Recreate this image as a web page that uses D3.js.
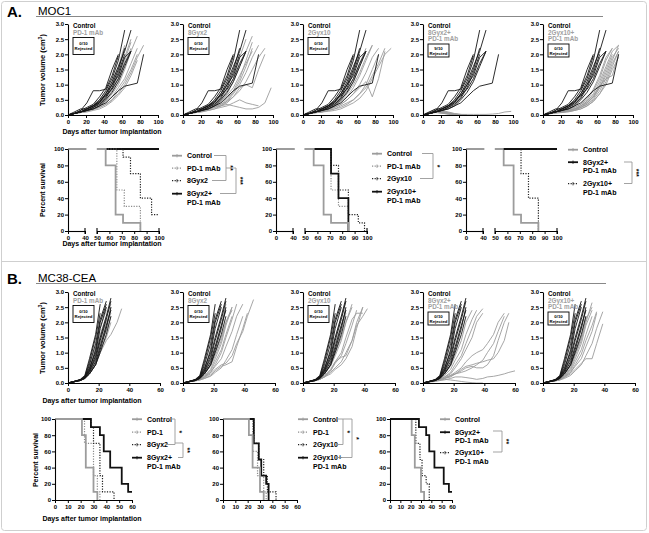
<!DOCTYPE html>
<html><head><meta charset="utf-8">
<script src="https://cdn.jsdelivr.net/npm/d3@7"></script>
<style>
body{margin:0;background:#fff}
svg{display:block;font-family:"Liberation Sans",Arial,Helvetica,sans-serif}
</style></head><body>
<svg id="c" width="649" height="533"></svg>
<script>
// ---------------- DATA ----------------
const VOL_TICKS = [0,0.5,1,1.5,2,2.5,3];
const PCT_TICKS = [0,20,40,60,80,100];
const A_XTICKS = [0,20,40,60,80,100];
const B_XTICKS = [0,20,40,60];
const A_SURV_TICKS_LO = [0,40];
const A_SURV_TICKS_HI = [50,60,70,80,90,100];
const B_SURV_TICKS = [0,10,20,30,40,50,60];

// MOC1 measurement days (index i of every volume array)
const A_DAYS = [0,7,14,21,28,35,42,49,56,63,70,77,84,91,98];
// MC38-CEA measurement days
const B_DAYS = [0,4,8,11,14,18,21,25,28,32,35,39,42,46,49,53,56,60];

// MOC1 tumor volumes (cm3)
const A_CONTROL = [
 [0,0.05,0.15,0.4,0.8,0.8,0.85,1.3,1.95],
 [0,0.05,0.1,0.15,0.25,0.4,0.7,1.1,1.6,2.1,2.8],
 [0,0.05,0.1,0.2,0.3,0.5,0.8,1.2,1.8,2.8],
 [0,0.1,0.2,0.2,0.3,0.4,0.6,1.0,1.5,2.2],
 [0,0.05,0.1,0.15,0.25,0.35,0.55,0.9,1.4,2.0],
 [0,0.05,0.1,0.2,0.3,0.45,0.7,1.0,1.3,1.9,2.1],
 [0,0.05,0.1,0.15,0.2,0.3,0.4,0.6,0.8,0.95,1.0,1.05,2.0],
 [0,0.05,0.15,0.25,0.35,0.6,0.9,1.5,2.0],
 [0,0.05,0.1,0.2,0.3,0.45,0.65,0.85,1.2,1.7,2.1],
 [0,0.05,0.1,0.15,0.2,0.3,0.5,0.75,1.1,1.6,2.1]
];
const A_PD1 = [
 [0,0.05,0.1,0.15,0.25,0.4,0.6,0.9,1.3,1.9,2.5],
 [0,0.05,0.1,0.2,0.3,0.45,0.7,1.0,1.5,2.2],
 [0,0.05,0.1,0.15,0.2,0.3,0.45,0.7,1.0,1.5,2.1,2.6],
 [0,0.05,0.1,0.15,0.2,0.3,0.4,0.6,0.9,1.2,1.7,2.2],
 [0,0.05,0.08,0.12,0.2,0.25,0.35,0.5,0.8,1.1,1.5,2.0],
 [0,0.05,0.1,0.2,0.35,0.5,0.75,1.1,1.6,2.3],
 [0,0.05,0.08,0.1,0.15,0.2,0.3,0.45,0.65,0.9,1.3,1.8],
 [0,0.05,0.1,0.15,0.25,0.35,0.5,0.8,1.2,1.8,2.4],
 [0,0.04,0.08,0.12,0.18,0.25,0.35,0.5,0.7,1.0,1.4,1.9,2.3],
 [0,0.05,0.1,0.2,0.3,0.4,0.6,0.85,1.2,1.7,2.2]
];
const A_8GY = [
 [0,0.05,0.1,0.15,0.2,0.3,0.45,0.7,1.1,1.6,2.1,2.6],
 [0,0.05,0.08,0.12,0.18,0.25,0.35,0.5,0.75,1.1,1.6,2.2],
 [0,0.05,0.1,0.2,0.35,0.3,0.3,0.4,0.6,0.9,1.0,0.9,1.5,2.0],
 [0,0.05,0.1,0.15,0.2,0.25,0.3,0.35,0.3,0.25,0.2,0.2,0.25,0.4,0.9],
 [0,0.05,0.1,0.15,0.2,0.3,0.4,0.55,0.8,1.2,1.8,2.4],
 [0,0.05,0.08,0.1,0.15,0.2,0.25,0.3,0.4,0.5,0.4,0.35,0.3],
 [0,0.05,0.1,0.15,0.25,0.35,0.5,0.8,1.2,1.9,2.5],
 [0,0.05,0.1,0.12,0.15,0.2,0.3,0.45,0.7,1.0,1.4,1.9,2.3],
 [0,0.05,0.08,0.12,0.2,0.3,0.45,0.65,0.9,1.3,1.7,2.1],
 [0,0.05,0.1,0.15,0.2,0.3,0.35,0.45,0.6,0.8,1.1,1.5,1.9,2.2]
];
const A_2GY = [
 [0,0.05,0.1,0.15,0.2,0.3,0.45,0.7,1.0,1.4,1.9,2.3],
 [0,0.05,0.08,0.12,0.18,0.25,0.35,0.5,0.7,1.0,1.4,1.9,2.2],
 [0,0.05,0.1,0.15,0.2,0.25,0.35,0.5,0.7,0.9,1.1,0.6,1.2,2.1],
 [0,0.04,0.08,0.1,0.15,0.2,0.3,0.4,0.5,0.7,0.9,1.3,1.7,2.2],
 [0,0.05,0.1,0.2,0.3,0.45,0.7,1.0,1.5,2.1],
 [0,0.05,0.1,0.15,0.25,0.35,0.5,0.75,1.1,1.6,2.1],
 [0,0.05,0.08,0.1,0.15,0.2,0.25,0.35,0.5,0.7,1.0,1.5,2.0],
 [0,0.05,0.1,0.15,0.2,0.3,0.4,0.6,0.9,1.3,1.8,2.3],
 [0,0.04,0.07,0.1,0.12,0.15,0.2,0.3,0.4,0.55,0.8,1.2,1.6,2.0,2.2],
 [0,0.05,0.1,0.15,0.2,0.35,0.55,0.8,1.2,1.7,2.2]
];
const A_8GY_PD1 = [
 [0,0.1,0.15,0.1,0.05,0,0,0],
 [0,0.08,0.12,0.1,0.05,0.02,0],
 [0,0.1,0.18,0.12,0.06,0.02,0],
 [0,0.05,0.1,0.08,0.04,0.01,0],
 [0,0.06,0.12,0.15,0.1,0.05,0.02,0],
 [0,0.07,0.1,0.06,0.03,0],
 [0,0.08,0.14,0.1,0.07,0.03,0.01,0],
 [0,0.05,0.09,0.07,0.05,0.03,0.02,0.02,0.02,0.02,0.02,0.03,0.05,0.1,0.12],
 [0,0.06,0.1,0.12,0.08,0.04,0],
 [0,0.04,0.08,0.06,0.03,0.01,0]
];
const A_2GY_PD1 = [
 [0,0.05,0.1,0.12,0.15,0.2,0.3,0.45,0.7,1.1,1.6,2.1,2.3],
 [0,0.05,0.08,0.1,0.15,0.2,0.25,0.35,0.55,0.9,1.4,1.9,2.2],
 [0,0.04,0.08,0.1,0.12,0.18,0.25,0.4,0.6,1.0,1.5,2.0],
 [0,0.05,0.1,0.15,0.2,0.25,0.35,0.5,0.8,1.2,1.8,2.2],
 [0,0.05,0.08,0.1,0.12,0.15,0.2,0.3,0.45,0.7,1.1,1.6,2.1],
 [0,0.04,0.07,0.1,0.15,0.2,0.3,0.4,0.6,0.9,1.3,1.8,2.3],
 [0,0.05,0.1,0.12,0.15,0.2,0.3,0.45,0.65,0.95,1.2,1.3,2.0],
 [0,0.05,0.08,0.1,0.12,0.15,0.25,0.35,0.5,0.8,1.2,1.7,2.1],
 [0,0.04,0.06,0.08,0.1,0.15,0.2,0.3,0.45,0.7,1.0,1.5,1.9],
 [0,0.05,0.1,0.12,0.18,0.25,0.35,0.55,0.85,1.3,1.9,2.2]
];

// MC38-CEA tumor volumes (cm3)
const B_CONTROL = [
 [0,0.05,0.12,0.25,0.8,1.6,2.6],
 [0,0.05,0.1,0.2,0.6,1.3,2.1,2.7],
 [0,0.04,0.1,0.18,0.4,0.9,1.5,2.2,2.8],
 [0,0.05,0.1,0.2,0.5,1.0,1.8,2.5],
 [0,0.04,0.08,0.15,0.35,0.7,1.2,1.9,2.4],
 [0,0.05,0.1,0.22,0.7,1.5,2.3],
 [0,0.04,0.09,0.15,0.3,0.6,1.0,1.6,2.2],
 [0,0.05,0.1,0.2,0.45,1.1,2.0,2.6],
 [0,0.04,0.08,0.16,0.3,0.6,1.1,1.8,2.5],
 [0,0.05,0.1,0.18,0.4,0.8,1.4,2.1,2.7]
];
const B_PD1 = [
 [0,0.05,0.1,0.2,0.5,1.0,1.6,2.2,2.6],
 [0,0.04,0.08,0.15,0.3,0.6,1.0,1.4,1.6,2.0,2.45],
 [0,0.05,0.1,0.2,0.6,1.2,2.0,2.5],
 [0,0.04,0.09,0.18,0.4,0.8,1.3,1.9,2.3],
 [0,0.05,0.1,0.2,0.45,0.9,1.5,2.1],
 [0,0.04,0.08,0.15,0.35,0.7,1.1,1.5,2.0],
 [0,0.05,0.1,0.2,0.5,1.1,1.8,2.4],
 [0,0.04,0.08,0.16,0.3,0.65,1.2,1.8,2.5],
 [0,0.05,0.1,0.18,0.4,0.85,1.4,2.0,2.4],
 [0,0.04,0.09,0.17,0.35,0.75,1.3,1.7,2.2]
];
const B_8GY = [
 [0,0.04,0.08,0.12,0.2,0.35,0.6,1.0,1.5,2.1,2.6],
 [0,0.04,0.07,0.1,0.15,0.25,0.4,0.55,0.6,0.7,1.2,1.8,2.3],
 [0,0.05,0.1,0.15,0.3,0.6,1.0,1.5,2.0,2.4],
 [0,0.04,0.08,0.12,0.18,0.3,0.45,0.6,0.65,0.9,1.3,1.7,2.2,2.75],
 [0,0.05,0.09,0.14,0.25,0.45,0.8,1.3,1.9,2.5],
 [0,0.04,0.08,0.11,0.2,0.35,0.55,0.8,1.2,1.7,2.2,2.6],
 [0,0.05,0.1,0.15,0.3,0.55,0.9,1.4,2.0,2.5],
 [0,0.04,0.07,0.1,0.15,0.22,0.35,0.5,0.75,1.1,1.6,2.2],
 [0,0.05,0.1,0.16,0.35,0.7,1.2,1.9,2.6],
 [0,0.04,0.08,0.12,0.22,0.4,0.7,1.1,1.6,2.2]
];
const B_2GY = [
 [0,0.04,0.08,0.12,0.2,0.4,0.7,0.85,0.9,1.4,2.0,2.5],
 [0,0.05,0.1,0.15,0.3,0.6,1.0,1.5,2.0,2.5],
 [0,0.04,0.08,0.12,0.2,0.35,0.5,0.7,1.0,1.4,1.9,2.2,2.45],
 [0,0.05,0.1,0.18,0.4,0.8,1.3,1.9,2.4],
 [0,0.04,0.09,0.15,0.3,0.55,0.9,1.4,2.0,2.6],
 [0,0.05,0.1,0.2,0.45,0.9,1.5,2.2,2.7],
 [0,0.04,0.08,0.14,0.25,0.45,0.7,1.0,1.5,2.1,2.3,2.3],
 [0,0.04,0.07,0.12,0.2,0.3,0.45,0.6,0.8,1.2,1.8,2.5],
 [0,0.05,0.1,0.16,0.35,0.7,1.1,1.7,2.3],
 [0,0.04,0.08,0.13,0.22,0.4,0.65,0.9,1.3,1.9,2.4]
];
const B_8GY_PD1 = [
 [0,0.04,0.08,0.12,0.2,0.35,0.6,0.9,1.3,1.8,2.2,2.45],
 [0,0.04,0.07,0.1,0.15,0.25,0.35,0.5,0.7,0.9,1.0,1.1,1.3,1.6,2.0,2.3],
 [0,0.04,0.07,0.1,0.15,0.2,0.3,0.45,0.55,0.6,0.65,0.7,0.75,0.8,1.0,1.4,2.0],
 [0,0.03,0.05,0.08,0.1,0.15,0.2,0.2,0.18,0.15,0.12,0.15,0.2,0.22,0.25,0.3,0.35,0.4],
 [0,0.04,0.08,0.1,0.12,0.1,0.08,0.05,0.03,0.01,0,0],
 [0,0.05,0.1,0.15,0.3,0.55,0.9,1.4,2.0,2.4],
 [0,0.04,0.08,0.12,0.2,0.3,0.5,0.8,1.1,1.5,2.0,2.3],
 [0,0.04,0.07,0.1,0.15,0.22,0.3,0.4,0.5,0.55,0.5,0.5,0.6,0.9,1.4,2.0,2.3],
 [0,0.04,0.08,0.12,0.18,0.25,0.3,0.35,0.4,0.5,0.6,0.75,1.0,1.3,1.7,2.2],
 [0,0.05,0.09,0.14,0.25,0.45,0.75,1.1,1.6,2.1,2.4]
];
const B_2GY_PD1 = [
 [0,0.04,0.08,0.12,0.25,0.5,0.9,1.4,2.0,2.65],
 [0,0.04,0.07,0.1,0.18,0.3,0.45,0.65,0.8,0.8,1.3,1.95],
 [0,0.05,0.09,0.14,0.3,0.6,1.0,1.5,2.1,2.5],
 [0,0.04,0.07,0.11,0.2,0.35,0.6,0.95,1.4,1.9,2.35],
 [0,0.05,0.1,0.15,0.35,0.7,1.2,1.8,2.4],
 [0,0.04,0.08,0.12,0.22,0.4,0.7,1.1,1.6,2.2],
 [0,0.04,0.07,0.1,0.15,0.25,0.4,0.6,0.9,1.3,1.8,2.35],
 [0,0.05,0.09,0.15,0.3,0.55,0.95,1.5,2.2],
 [0,0.04,0.08,0.12,0.2,0.35,0.55,0.8,1.2,1.7,2.3],
 [0,0.04,0.08,0.13,0.25,0.45,0.8,1.3,1.9,2.4]
];

// Kaplan-Meier survival: [day, percent] step points
const KM_A_CONTROL = [[0,100],[57,80],[65,20],[71,10],[85,0]];
const KM_A_PD1 = [[0,100],[66,50],[72,30],[85,0]];
const KM_A_8GY = [[0,100],[71,90],[77,70],[85,40],[94,20],[100,20]];
const KM_A_8GY_PD1 = [[57,100],[100,100]];
const KM_A2_PD1 = [[0,100],[71,50],[77,30],[85,0]];
const KM_A_2GY = [[0,100],[71,80],[77,50],[85,20],[93,10],[98,0]];
const KM_A_2GY_PD1 = [[0,100],[71,70],[77,40],[85,0]];

const KM_B_CONTROL = [[0,100],[21,80],[24,40],[30,10],[33,0]];
const KM_B_PD1 = [[0,100],[23,70],[30,30],[33,10],[35,0]];
const KM_B_8GY = [[0,100],[28,90],[30,70],[35,30],[37,10],[46,0]];
const KM_B_8GY_PD1 = [[0,100],[28,90],[35,80],[38,60],[43,40],[52,20],[57,10],[60,10]];
const KM_B2_PD1 = [[0,100],[24,60],[28,30],[33,10],[35,0]];
const KM_B_2GY = [[0,100],[25,70],[29,50],[33,30],[36,10],[43,0]];
const KM_B_2GY_PD1_B2 = [[0,100],[25,70],[29,50],[31,30],[35,20],[37,0]];
const KM_B_2GY_PD1 = [[0,100],[25,70],[29,50],[31,30],[35,20],[38,0]];

// ---------------- DRAWING ----------------
const svg = d3.select('#c');
const FONT = '"Liberation Sans",Arial,Helvetica,sans-serif';
const GRAY = '#9c9c9c', BLACK = '#151515', GRAYTXT = '#a0a0a0';

// frame and separator
svg.append('rect').attr('x',1.5).attr('y',1.5).attr('width',645).attr('height',529).attr('rx',3)
  .attr('fill','none').attr('stroke','#cfcfcf');
svg.append('line').attr('x1',1.5).attr('x2',646.5).attr('y1',261.5).attr('y2',261.5).attr('stroke','#cfcfcf');

function header(letter, title, y, x2){
  svg.append('text').attr('x',7).attr('y',y+2).attr('font-size',15).attr('font-weight','bold').text(letter);
  svg.append('text').attr('x',38).attr('y',y).attr('font-size',11.5).text(title);
  svg.append('line').attr('x1',36).attr('x2',x2).attr('y1',y+1.5).attr('y2',y+1.5).attr('stroke','#888').attr('stroke-width',1);
}
header('A.', 'MOC1', 15, 603);
header('B.', 'MC38-CEA', 282, 606);

function styleAxis(g){
  g.selectAll('.domain').attr('stroke','#000').attr('stroke-width',1.1);
  g.selectAll('.tick line').attr('stroke','#000').attr('stroke-width',1);
  g.selectAll('.tick text').attr('font-family',FONT).attr('font-weight','bold').attr('font-size',6).attr('fill','#000');
}

function spaghetti(c){
  const g = svg.append('g');
  const x = d3.scaleLinear().domain([0,c.xmax]).range([c.x0, c.x0+c.w]);
  const y = d3.scaleLinear().domain([0,3]).range([c.yb, c.yt]);
  const line = d3.line().x(d=>x(d[0])).y(d=>y(d[1]));
  const pts = v => v.map((val,i)=>[c.days[i], val]);
  g.selectAll('path.gr').data(c.gray).join('path').attr('class','gr')
    .attr('d', v=>line(pts(v))).attr('fill','none').attr('stroke',GRAY).attr('stroke-width',0.9);
  g.selectAll('path.bk').data(c.black).join('path').attr('class','bk')
    .attr('d', v=>line(pts(v))).attr('fill','none').attr('stroke',BLACK).attr('stroke-width',0.9);
  const ya = g.append('g').attr('transform',`translate(${c.x0},0)`)
    .call(d3.axisLeft(y).tickValues(VOL_TICKS).tickFormat(d3.format('.1f')).tickSize(3).tickSizeOuter(0).tickPadding(1));
  const xa = g.append('g').attr('transform',`translate(0,${c.yb})`)
    .call(d3.axisBottom(x).tickValues(c.xticks).tickSize(3).tickSizeOuter(0).tickPadding(1.5));
  styleAxis(ya); styleAxis(xa);
  // legend
  const lx = c.x0 + 5;
  let ly = c.yt + 4;
  g.append('text').attr('x',lx).attr('y',ly).attr('font-size',6.3).attr('font-weight','bold').text('Control');
  c.group.forEach(t=>{ ly += 6.5; g.append('text').attr('x',lx).attr('y',ly).attr('font-size',6.3).attr('font-weight','bold').attr('fill',GRAYTXT).text(t); });
  const bh = c.group.length>1 ? 13 : 17;
  const by = ly + 3;
  const bw = 21;
  g.append('rect').attr('x',lx).attr('y',by).attr('width',bw).attr('height',bh).attr('fill','#fff').attr('stroke','#000').attr('stroke-width',0.9);
  g.append('text').attr('x',lx+bw/2).attr('y',by+bh/2-0.8).attr('text-anchor','middle').attr('font-size',4.3).attr('font-weight','bold').text(c.rej);
  g.append('text').attr('x',lx+bw/2).attr('y',by+bh/2+4.3).attr('text-anchor','middle').attr('font-size',4.3).attr('font-weight','bold').text('Rejected');
}

const A_X0 = [68,183,303,423,543];
const A_GROUPS = [['PD-1 mAb'],['8Gyx2'],['2Gyx10'],['8Gyx2+','PD-1 mAb'],['2Gyx10+','PD-1 mAb']];
const A_REJ = ['0/10','0/10','0/10','9/10','0/10'];
const A_TREAT = [A_PD1, A_8GY, A_2GY, A_8GY_PD1, A_2GY_PD1];
A_TREAT.forEach((t,i)=>spaghetti({x0:A_X0[i], w:90, xmax:100, yt:24, yb:115, days:A_DAYS, gray:t, black:A_CONTROL, xticks:A_XTICKS, group:A_GROUPS[i], rej:A_REJ[i]}));
const B_TREAT = [B_PD1, B_8GY, B_2GY, B_8GY_PD1, B_2GY_PD1];
const B_GROUPS = [['PD-1 mAb'],['8Gyx2'],['2Gyx10'],['8Gyx2+','PD-1 mAb'],['2Gyx10+','PD-1 mAb']];
B_TREAT.forEach((t,i)=>spaghetti({x0:A_X0[i], w:92, xmax:60, yt:292, yb:383, days:B_DAYS, gray:t, black:B_CONTROL, xticks:B_XTICKS, group:B_GROUPS[i], rej:'0/10'}));

function label(txt, x, y, rot){
  const t = svg.append('text').attr('font-size',7).attr('font-weight','bold').attr('text-anchor','middle')
    .attr('transform', `translate(${x},${y})` + (rot?' rotate(-90)':''));
  return t.text(txt);
}
function tumorLabel(x,y){
  const t = svg.append('text').attr('font-size',7.5).attr('font-weight','bold').attr('text-anchor','middle')
    .attr('transform',`translate(${x},${y}) rotate(-90)`);
  t.append('tspan').text('Tumor volume  (cm');
  t.append('tspan').attr('font-size',5).attr('dy',-2.8).text('3');
  t.append('tspan').attr('dy',2.8).text(')');
}
tumorLabel(45,70); tumorLabel(45,338);
label('Days after tumor implantation', 112, 134);
label('Days after tumor implantation', 112, 246);
label('Days after tumor implantation', 92, 403);
label('Days after tumor implantation', 92, 521);
label('Percent survival', 45, 190, true);
label('Percent survival', 38, 460, true);

const STYLES = {
  ctrl:{stroke:GRAY, w:1.8, dash:null},
  gdot:{stroke:'#8c8c8c', w:1.2, dash:'1.2,1.4'},
  bdot:{stroke:'#222', w:1.2, dash:'1.2,1.4'},
  bsol:{stroke:'#111', w:1.8, dash:null}
};
let clipId = 0;
function survival(c){
  const g = svg.append('g');
  const y = d3.scaleLinear().domain([0,100]).range([c.yb, c.yt]);
  c.segs.forEach(s=>{
    const x = d3.scaleLinear().domain(s.d).range(s.r);
    const id = 'clp'+(clipId++);
    g.append('clipPath').attr('id',id).append('rect').attr('x',s.r[0]-0.2).attr('y',c.yt-3).attr('width',s.r[1]-s.r[0]+1.4).attr('height',c.yb-c.yt+6);
    const line = d3.line().x(d=>x(d[0])).y(d=>y(d[1])).curve(d3.curveStepAfter);
    const cg = g.append('g').attr('clip-path',`url(#${id})`);
    c.curves.forEach(cv=>{
      const st = STYLES[cv.s];
      cg.append('path').attr('d',line(cv.d)).attr('fill','none').attr('stroke',st.stroke).attr('stroke-width',st.w)
        .attr('stroke-dasharray',st.dash);
    });
    const xa = g.append('g').attr('transform',`translate(0,${c.yb})`)
      .call(d3.axisBottom(x).tickValues(s.ticks).tickSize(3).tickSizeOuter(0).tickPadding(1.5));
    styleAxis(xa);
    if(c.segs.length>1){
      [s.r[0], s.r[1]].forEach(px=>{
        if(px!==c.segs[0].r[0]) g.append('line').attr('x1',px).attr('x2',px).attr('y1',c.yb-3).attr('y2',c.yb+3).attr('stroke','#000').attr('stroke-width',1.1);
      });
    }
  });
  const ya = g.append('g').attr('transform',`translate(${c.segs[0].r[0]},0)`)
    .call(d3.axisLeft(y).tickValues(PCT_TICKS).tickSize(3).tickSizeOuter(0).tickPadding(1));
  styleAxis(ya);
  // legend
  c.legend.forEach(L=>{
    const st = STYLES[L.s];
    g.append('line').attr('x1',c.lx).attr('x2',c.lx+10).attr('y1',L.y-2.3).attr('y2',L.y-2.3)
      .attr('stroke',st.stroke).attr('stroke-width',st.w).attr('stroke-dasharray',st.dash);
    g.append('line').attr('x1',c.lx+5).attr('x2',c.lx+5).attr('y1',L.y-4).attr('y2',L.y-0.6).attr('stroke',st.stroke).attr('stroke-width',0.8);
    L.t.forEach((t,k)=>g.append('text').attr('x',c.lx+15).attr('y',L.y+k*8.5).attr('font-size',7).attr('font-weight','bold').text(t));
  });
  (c.brackets||[]).forEach(b=>{
    g.append('path').attr('d',`M${b.x1},${b.y1}H${b.x2}V${b.y2}H${b.x3}`).attr('fill','none').attr('stroke','#999').attr('stroke-width',0.9);
    g.append('text').attr('transform',`translate(${b.x2+2},${(b.y1+b.y2)/2}) rotate(90)`).attr('text-anchor','middle')
      .attr('font-size',7).attr('font-weight','bold').text(b.t);
  });
}

function aSegs(x0){ return [{d:[0,40], r:[x0,x0+17], ticks:A_SURV_TICKS_LO},{d:[50,100], r:[x0+29,x0+91], ticks:A_SURV_TICKS_HI}]; }
survival({yt:149, yb:231, segs:aSegs(68), lx:172,
  curves:[{d:KM_A_8GY_PD1,s:'bsol'},{d:KM_A_PD1,s:'gdot'},{d:KM_A_8GY,s:'bdot'},{d:KM_A_CONTROL,s:'ctrl'}],
  legend:[{t:['Control'],s:'ctrl',y:158},{t:['PD-1 mAb'],s:'gdot',y:170.5},{t:['8Gyx2'],s:'bdot',y:183},{t:['8Gyx2+','PD-1 mAb'],s:'bsol',y:196}],
  brackets:[{x1:214,x2:226,y1:155.5,y2:180.5,x3:212,t:'**'},{x1:226,x2:236,y1:168,y2:193.5,x3:220,t:'***'}]});
survival({yt:149, yb:231, segs:aSegs(276), lx:372,
  curves:[{d:KM_A2_PD1,s:'gdot'},{d:KM_A_2GY,s:'bdot'},{d:KM_A_2GY_PD1,s:'bsol'},{d:KM_A_CONTROL,s:'ctrl'}],
  legend:[{t:['Control'],s:'ctrl',y:156},{t:['PD-1 mAb'],s:'gdot',y:168.5},{t:['2Gyx10'],s:'bdot',y:181},{t:['2Gyx10+','PD-1 mAb'],s:'bsol',y:194}],
  brackets:[{x1:422,x2:433,y1:153.5,y2:178.5,x3:420,t:'*'}]});
survival({yt:149, yb:231, segs:aSegs(466), lx:568,
  curves:[{d:KM_A_2GY_PD1,s:'bdot'},{d:KM_A_CONTROL,s:'ctrl'},{d:KM_A_8GY_PD1,s:'bsol'}],
  legend:[{t:['Control'],s:'ctrl',y:152},{t:['8Gyx2+','PD-1 mAb'],s:'bsol',y:164.5},{t:['2Gyx10+','PD-1 mAb'],s:'bdot',y:186}],
  brackets:[{x1:624,x2:632,y1:162,y2:183.5,x3:624,t:'***'}]});

function bSeg(x0,w){ return [{d:[0,60], r:[x0,x0+w], ticks:B_SURV_TICKS}]; }
survival({yt:419, yb:500, segs:bSeg(55,77), lx:132,
  curves:[{d:KM_B_PD1,s:'gdot'},{d:KM_B_8GY,s:'bdot'},{d:KM_B_8GY_PD1,s:'bsol'},{d:KM_B_CONTROL,s:'ctrl'}],
  legend:[{t:['Control'],s:'ctrl',y:421.5},{t:['PD-1'],s:'gdot',y:434.5},{t:['8Gyx2'],s:'bdot',y:447},{t:['8Gyx2+','PD-1 mAb'],s:'bsol',y:460}],
  brackets:[{x1:166,x2:175,y1:419,y2:444.5,x3:166,t:'*'},{x1:175,x2:183,y1:443,y2:457.5,x3:178,t:'**'}]});
survival({yt:419, yb:500, segs:bSeg(223,74), lx:298,
  curves:[{d:KM_B2_PD1,s:'gdot'},{d:KM_B_2GY,s:'bdot'},{d:KM_B_2GY_PD1_B2,s:'bsol'},{d:KM_B_CONTROL,s:'ctrl'}],
  legend:[{t:['Control'],s:'ctrl',y:421.5},{t:['PD-1'],s:'gdot',y:434.5},{t:['2Gyx10'],s:'bdot',y:447},{t:['2Gyx10+','PD-1 mAb'],s:'bsol',y:460}],
  brackets:[{x1:336,x2:343,y1:419,y2:444.5,x3:336,t:'*'},{x1:343,x2:352,y1:419,y2:457.5,x3:336,t:'*'}]});
survival({yt:419, yb:500, segs:bSeg(390,62), lx:440,
  curves:[{d:KM_B_2GY_PD1,s:'bdot'},{d:KM_B_CONTROL,s:'ctrl'},{d:KM_B_8GY_PD1,s:'bsol'}],
  legend:[{t:['Control'],s:'ctrl',y:421.5},{t:['8Gyx2+','PD-1 mAb'],s:'bsol',y:434.5},{t:['2Gyx10+','PD-1 mAb'],s:'bdot',y:455}],
  brackets:[{x1:493,x2:502,y1:431,y2:452,x3:493,t:'**'}]});
</script>
</body></html>
